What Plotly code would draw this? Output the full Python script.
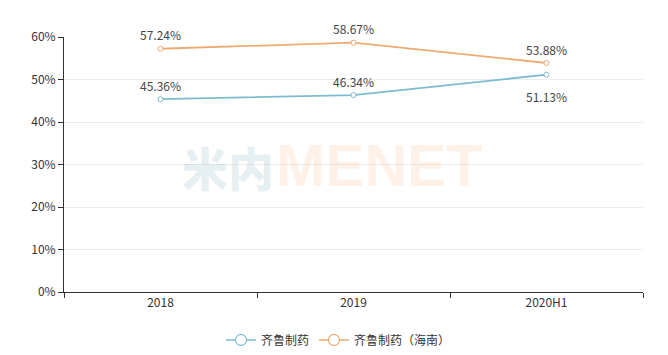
import plotly.graph_objects as go

categories = ["2018", "2019", "2020H1"]
series1_name = "齐鲁制药"
series1 = [45.36, 46.34, 51.13]
series1_label_pos = ["above", "above", "below"]
series2_name = "齐鲁制药（海南）"
series2 = [57.24, 58.67, 53.88]
series2_label_pos = ["above", "above", "above"]
y_ticks = [0, 10, 20, 30, 40, 50, 60]

blue = "#7dbbd0"
orange = "#edab72"
font_family = "Microsoft YaHei, Noto Sans CJK SC, sans-serif"

fig = go.Figure()
for name, vals, color, pos in [(series1_name, series1, blue, series1_label_pos),
                               (series2_name, series2, orange, series2_label_pos)]:
    fig.add_trace(go.Scatter(
        x=categories, y=vals, name=name, showlegend=False,
        mode="lines+markers",
        line=dict(color=color, width=1.8),
        marker=dict(symbol="circle", size=5, color="white", line=dict(color=color, width=1)),
        cliponaxis=False,
    ))
    # legend-only proxy with larger marker
    fig.add_trace(go.Scatter(
        x=[None], y=[None], name=name, mode="lines+markers",
        line=dict(color=color, width=1.5),
        marker=dict(symbol="circle", size=11, color="white", line=dict(color=color, width=1.2)),
    ))
    for i, (v, p) in enumerate(zip(vals, pos)):
        fig.add_annotation(x=i, y=v, text=f"{v:.2f}%", showarrow=False,
                           yanchor="middle", yshift=14 if p == "above" else -22,
                           font=dict(size=12, color="#444"))

# watermark
fig.add_annotation(xref="paper", yref="paper", x=0.366, y=0.494, xanchor="right", yanchor="middle",
                   text="米内", showarrow=False,
                   font=dict(size=46, color="rgba(125,175,190,0.2)", family="Noto Sans CJK SC", weight=900))
fig.add_annotation(xref="paper", yref="paper", x=0.362, y=0.494, xanchor="left", yanchor="middle",
                   text="<b>MENET</b>", showarrow=False,
                   font=dict(size=59, color="rgba(250,180,130,0.18)", family="Liberation Sans"))

fig.update_layout(
    width=660, height=347,
    margin=dict(l=56, r=25, t=29, b=63, autoexpand=False),
    plot_bgcolor="white", paper_bgcolor="white",
    font=dict(family=font_family, size=12, color="#333"),
    showlegend=True,
    legend=dict(orientation="h", x=0.474, xanchor="center", y=-0.188, yanchor="middle",
                font=dict(size=12, color="#333"), itemwidth=30),
)
fig.update_xaxes(
    type="category", range=[-0.5, 2.5],
    showline=True, linecolor="#333", linewidth=1,
    ticks="outside", tickson="boundaries", ticklen=5, tickcolor="#333",
    showgrid=False, tickfont=dict(size=12, color="#333"),
)
fig.update_yaxes(
    range=[0, 60], tickvals=y_ticks, ticktext=[f"{v}%" for v in y_ticks],
    showline=True, linecolor="#333", linewidth=1,
    ticks="outside", ticklen=5, tickcolor="#333",
    showgrid=True, gridcolor="#ececec", zeroline=False,
    tickfont=dict(size=12, color="#333"),
)

fig.write_html("out.html")
